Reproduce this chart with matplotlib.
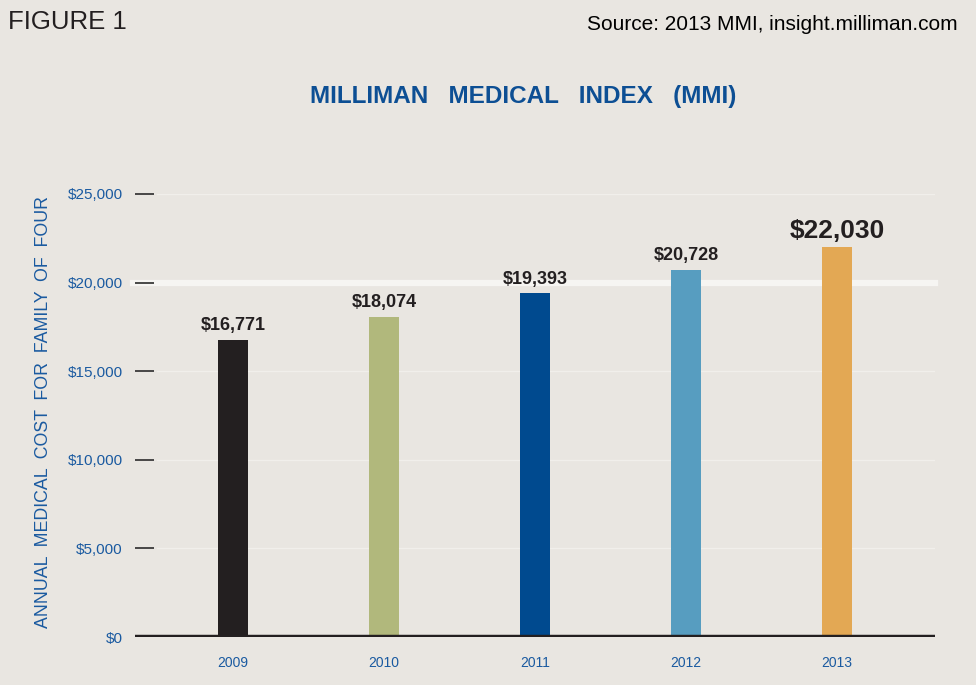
import matplotlib
matplotlib.use("Agg")
import matplotlib.pyplot as plt

years = ["2009", "2010", "2011", "2012", "2013"]
costs = [16771, 18074, 19393, 20728, 22030]
bar_colors = ["#231f20", "#b1b87c", "#004a8f", "#579dc0", "#e3a854"]
value_labels = ["$16,771", "$18,074", "$19,393", "$20,728", "$22,030"]
ytick_vals = [0, 5000, 10000, 15000, 20000, 25000]
ytick_labels = ["$0", "$5,000", "$10,000", "$15,000", "$20,000", "$25,000"]

FONT = "Liberation Sans"
BG = "#e9e6e1"
BLUE = "#1a5aa0"
W, H = 976, 685
fig = plt.figure(figsize=(W / 100, H / 100), dpi=100, facecolor=BG)
ax = fig.add_axes([135 / W, (H - 637) / H, (935 - 135) / W, (637 - 194) / H], facecolor=BG)

x = list(range(len(years)))
ax.set_xlim(-0.649, 4.649)
ax.set_ylim(0, 25000)

# gridlines
for v in ytick_vals[1:]:
    if v == 20000:
        ax.axhline(v, xmin=-0.003, xmax=1, color="#f6f5f2", lw=4.5, zorder=1, clip_on=False)
    else:
        ax.axhline(v, xmin=0.028, xmax=1, color="#f1efeb", lw=1.0, zorder=1)

ax.bar(x, costs, width=0.2, color=bar_colors, zorder=2)

for i, (c, lab) in enumerate(zip(costs, value_labels)):
    if i == len(costs) - 1:
        ax.text(i, c + 200, lab, ha="center", va="bottom", fontsize=19, fontweight="bold",
                color="#231f20", family=FONT)
    else:
        ax.text(i, c + 330, lab, ha="center", va="bottom", fontsize=13, fontweight="bold",
                color="#231f20", family=FONT)

ax.axhline(0, color="#231f20", lw=3.2, zorder=3)

for s in ax.spines.values():
    s.set_visible(False)

ax.set_yticks(ytick_vals)
ax.set_yticklabels(ytick_labels, fontsize=11, color=BLUE, family=FONT)
ax.tick_params(axis="y", direction="in", length=14, width=1.3, color="#3a3a3a", pad=9)
ax.yaxis.get_major_ticks()[0].tick1line.set_visible(False)

ax.set_xticks(x)
ax.set_xticklabels(years, fontsize=10, color=BLUE, family=FONT)
ax.tick_params(axis="x", length=0, pad=14)

fig.text(44 / W, 1 - 412 / H, "ANNUAL  MEDICAL  COST  FOR  FAMILY  OF  FOUR", rotation=90,
         ha="center", va="center", fontsize=12.8, color=BLUE, family=FONT)

fig.text(8 / W, 1 - 22 / H, "FIGURE 1", ha="left", va="center", fontsize=18.5,
         color="#231f20", family=FONT)
fig.text(958 / W, 1 - 24 / H, "Source: 2013 MMI, insight.milliman.com", ha="right", va="center",
         fontsize=15, color="#000000", family=FONT)
fig.text(523 / W, 1 - 97 / H, "MILLIMAN   MEDICAL   INDEX   (MMI)", ha="center", va="center",
         fontsize=17.5, fontweight="bold", color="#0d4f94", family=FONT)

fig.savefig("out.png", dpi=100, facecolor=BG)
